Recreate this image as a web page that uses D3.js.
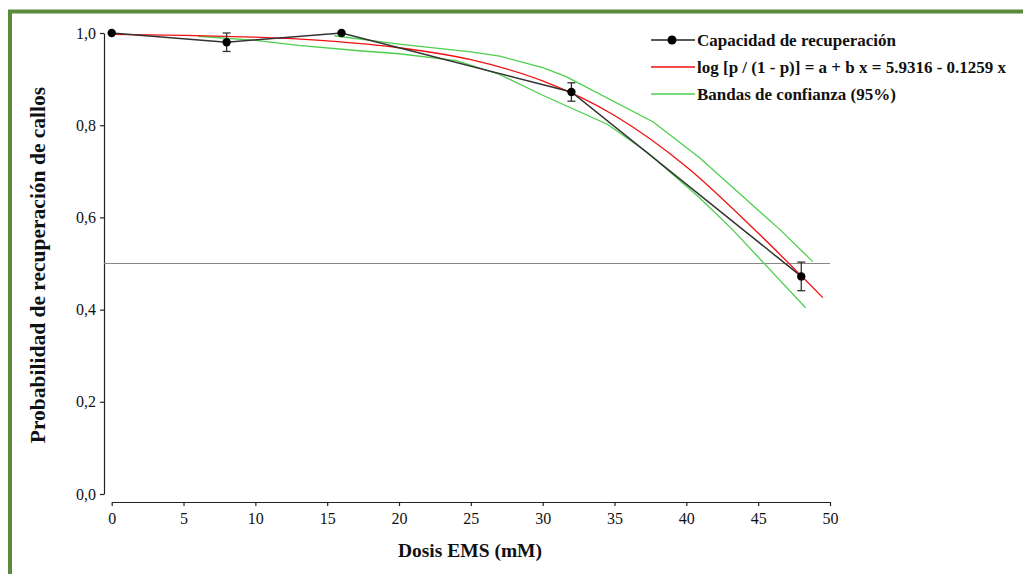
<!DOCTYPE html>
<html><head><meta charset="utf-8">
<script src="https://cdn.jsdelivr.net/npm/d3@7"></script>
<style>body{margin:0;background:#fff}svg{display:block}</style>
</head><body>
<svg id="c" width="1023" height="574"></svg>
<script>
// Observed data
const doses = [0, 8, 16, 32, 48];
const recovery = [1.0, 0.98, 1.0, 0.872, 0.472];
const errors = [0, 0.02, 0, 0.02, 0.031];
// Fitted logistic curve
const fitX = [0, 5, 10, 15, 20, 25, 30, 35, 40, 45, 49.5];
const fitY = [0.997, 0.995, 0.991, 0.983, 0.968, 0.942, 0.896, 0.821, 0.710, 0.566, 0.426];
// Confidence bands
const upperX = [15.5, 20, 25, 27, 30, 31.6, 37.7, 40.9, 46.5, 48.8];
const upperY = [0.994, 0.976, 0.959, 0.950, 0.925, 0.906, 0.807, 0.730, 0.574, 0.504];
const lowerX = [6, 10, 13, 17, 20, 24, 27, 30, 34.5, 37.3, 40.9, 43.2, 48.3];
const lowerY = [0.993, 0.984, 0.973, 0.962, 0.955, 0.940, 0.910, 0.865, 0.802, 0.741, 0.643, 0.574, 0.404];
const xTicks = [0, 5, 10, 15, 20, 25, 30, 35, 40, 45, 50];
const yTicks = [0, 0.2, 0.4, 0.6, 0.8, 1.0];
const refLine = 0.5;
const legendLabels = ["Capacidad de recuperación", "log [p / (1 - p)] = a + b  x = 5.9316 - 0.1259 x", "Bandas de confianza (95%)"];

const svg = d3.select("#c");
const serif = "'Liberation Serif','Times New Roman',serif";

// green frame
svg.append("path").attr("d", "M10,574 V11.5 H1023").attr("fill", "none")
  .attr("stroke", "#5b8a3a").attr("stroke-width", 4);

const x = d3.scaleLinear().domain([0, 50]).range([111.7, 830]);
const y = d3.scaleLinear().domain([0, 1]).range([494, 33]);

// axes
const xAxis = svg.append("g").attr("transform", "translate(0,502)")
  .call(d3.axisBottom(x).tickValues(xTicks).tickSize(4).tickSizeOuter(0).tickPadding(7).tickFormat(d3.format("d")));
const yAxis = svg.append("g").attr("transform", "translate(104,0)")
  .call(d3.axisLeft(y).tickValues(yTicks).tickSize(4).tickSizeOuter(0).tickPadding(4)
    .tickFormat(d => d3.format(".1f")(d).replace(".", ",")));
[xAxis, yAxis].forEach(a => {
  a.selectAll("path,line").attr("stroke", "#222").attr("stroke-width", 1.2);
  a.selectAll("text").attr("font-family", serif).attr("font-size", 16).attr("fill", "#111");
});

// reference line at 0.5
svg.append("line").attr("x1", 104).attr("x2", x(50)).attr("y1", y(refLine)).attr("y2", y(refLine))
  .attr("stroke", "#888").attr("stroke-width", 1.2);

const line = d3.line().x(d => x(d[0])).y(d => y(d[1]));

// bands
svg.append("path").datum(d3.zip(upperX, upperY)).attr("d", line)
  .attr("fill", "none").attr("stroke", "#4ccf4c").attr("stroke-width", 1.3);
svg.append("path").datum(d3.zip(lowerX, lowerY)).attr("d", line)
  .attr("fill", "none").attr("stroke", "#4ccf4c").attr("stroke-width", 1.3);
// fit
svg.append("path").datum(d3.zip(fitX, fitY)).attr("d", line.curve(d3.curveMonotoneX))
  .attr("fill", "none").attr("stroke", "#f01010").attr("stroke-width", 1.3);
line.curve(d3.curveLinear);
// observed
svg.append("path").datum(d3.zip(doses, recovery)).attr("d", line)
  .attr("fill", "none").attr("stroke", "#333").attr("stroke-width", 1.5);

// error bars
const eb = svg.append("g").attr("stroke", "#333").attr("stroke-width", 1.3);
doses.forEach((d, i) => {
  if (!errors[i]) return;
  const cx = x(d), t = y(recovery[i] + errors[i]), b = y(recovery[i] - errors[i]);
  eb.append("line").attr("x1", cx).attr("x2", cx).attr("y1", t).attr("y2", b);
  eb.append("line").attr("x1", cx - 4).attr("x2", cx + 4).attr("y1", t).attr("y2", t);
  eb.append("line").attr("x1", cx - 4).attr("x2", cx + 4).attr("y1", b).attr("y2", b);
});
svg.append("g").selectAll("circle").data(doses).join("circle")
  .attr("cx", d => x(d)).attr("cy", (d, i) => y(recovery[i])).attr("r", 4.2).attr("fill", "#000");

// axis titles
svg.append("text").attr("x", 470).attr("y", 557).attr("text-anchor", "middle")
  .attr("font-family", serif).attr("font-weight", "bold").attr("font-size", 19.5).attr("fill", "#111")
  .text("Dosis EMS (mM)");
svg.append("text").attr("transform", "translate(45,265) rotate(-90)").attr("text-anchor", "middle")
  .attr("font-family", serif).attr("font-weight", "bold").attr("font-size", 21.5).attr("fill", "#111")
  .text("Probabilidad de recuperación de callos");

// legend
const lg = svg.append("g");
const colors = ["#222", "#f01010", "#4ccf4c"];
const rowsY = [40, 67, 94];
legendLabels.forEach((t, i) => {
  lg.append("line").attr("x1", 651).attr("x2", 695).attr("y1", rowsY[i]).attr("y2", rowsY[i])
    .attr("stroke", colors[i]).attr("stroke-width", 1.3);
  if (i === 0) lg.append("circle").attr("cx", 672).attr("cy", rowsY[i]).attr("r", 4.5).attr("fill", "#000");
  lg.append("text").attr("x", 697).attr("y", rowsY[i] + 5.5).attr("font-family", serif)
    .attr("font-weight", "bold").attr("font-size", 17).attr("fill", "#111").text(t);
});
</script>
</body></html>
